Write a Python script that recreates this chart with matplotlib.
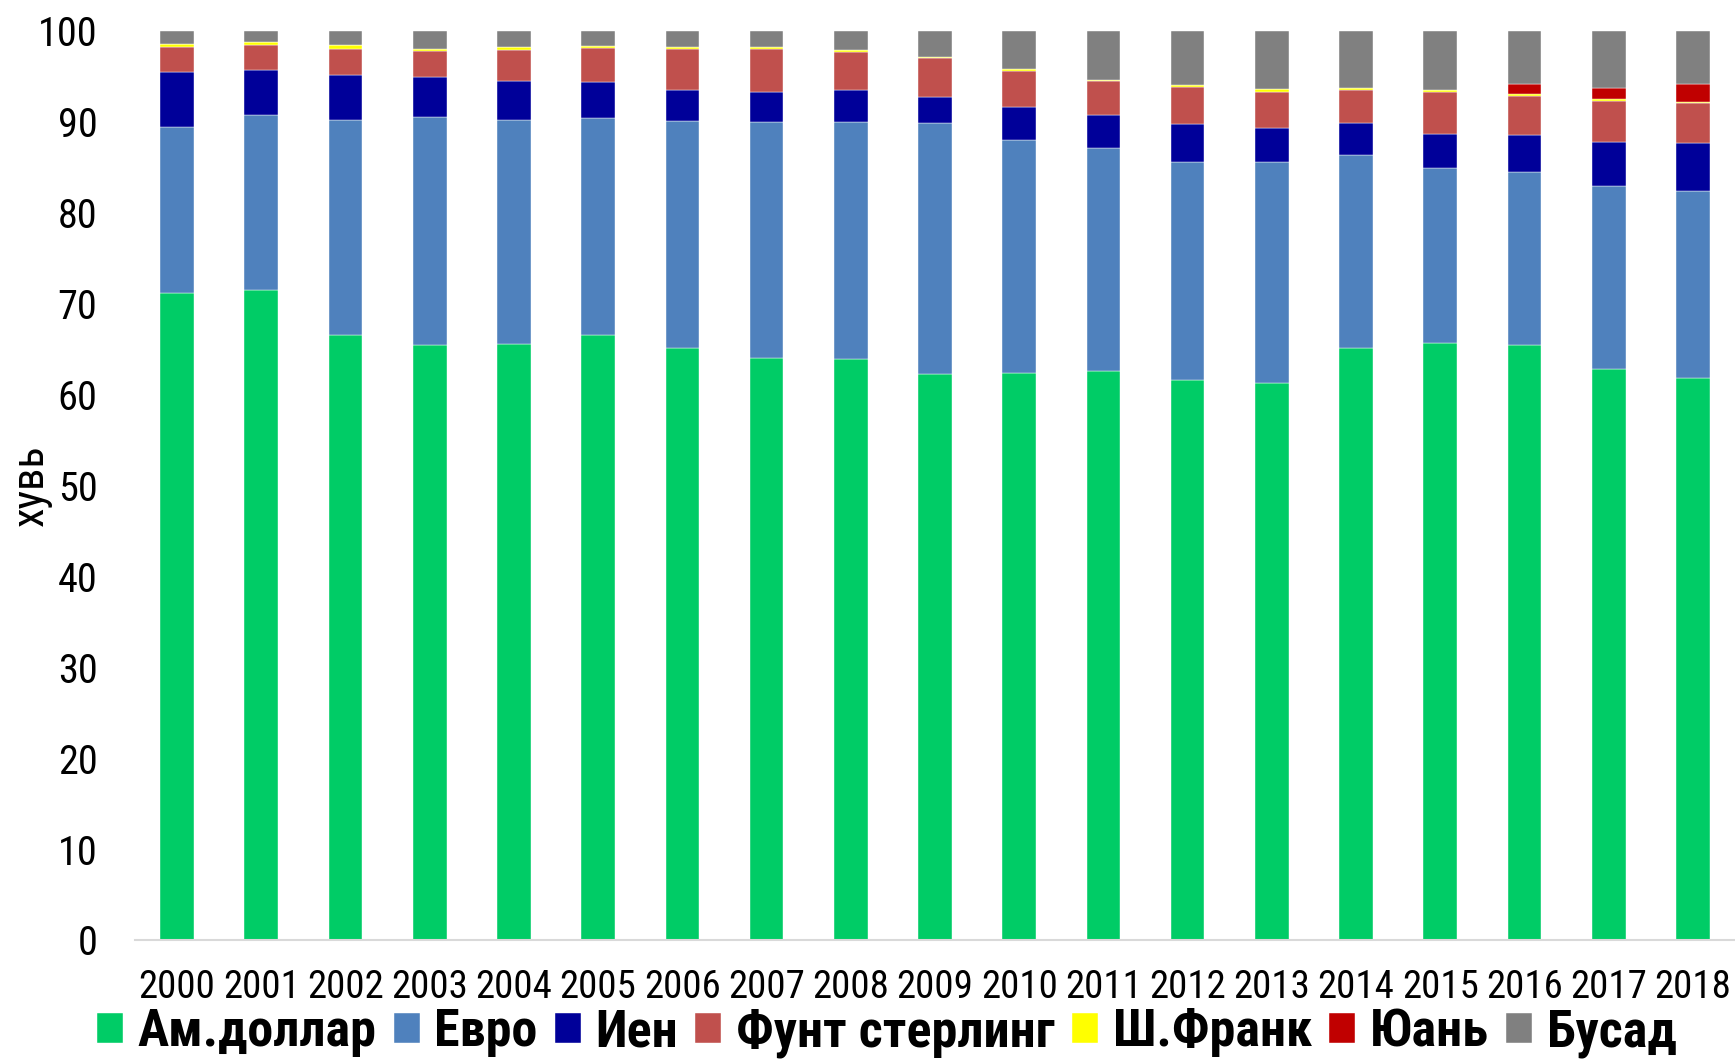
import matplotlib
matplotlib.use("Agg")
import matplotlib.pyplot as plt
import numpy as np
from matplotlib import font_manager
from matplotlib.font_manager import FontProperties

years = ['2000', '2001', '2002', '2003', '2004', '2005', '2006', '2007', '2008', '2009',
         '2010', '2011', '2012', '2013', '2014', '2015', '2016', '2017', '2018']

usd   = [71.1, 71.5, 66.5, 65.4, 65.5, 66.5, 65.1, 64.0, 63.9, 62.2,
         62.3, 62.6, 61.6, 61.3, 65.1, 65.7, 65.4, 62.8, 61.8]
eur   = [18.3, 19.2, 23.7, 25.1, 24.7, 23.9, 25.0, 26.0, 26.1, 27.6,
         25.7, 24.5, 24.0, 24.2, 21.2, 19.2, 19.1, 20.1, 20.6]
jpy   = [6.1, 5.0, 4.9, 4.4, 4.3, 4.0, 3.4, 3.2, 3.5, 2.9,
         3.6, 3.6, 4.1, 3.8, 3.5, 3.7, 4.0, 4.9, 5.2]
gbp   = [2.7, 2.7, 2.9, 2.9, 3.4, 3.7, 4.5, 4.8, 4.2, 4.3,
         4.0, 3.8, 4.1, 4.0, 3.7, 4.7, 4.3, 4.5, 4.4]
chf   = [0.3, 0.3, 0.4, 0.2, 0.3, 0.2, 0.2, 0.2, 0.2, 0.1,
         0.2, 0.1, 0.2, 0.3, 0.2, 0.2, 0.2, 0.2, 0.2]
cny   = [0, 0, 0, 0, 0, 0, 0, 0, 0, 0,
         0, 0, 0, 0, 0, 0, 1.1, 1.2, 1.9]
other = [1.5, 1.3, 1.6, 2.0, 1.8, 1.7, 1.8, 1.8, 2.1, 2.9,
         4.2, 5.4, 6.0, 6.4, 6.3, 6.5, 5.9, 6.3, 5.9]

series_names = ['Ам.доллар', 'Евро', 'Иен', 'Фунт стерлинг', 'Ш.Франк', 'Юань', 'Бусад']
series_vals = [usd, eur, jpy, gbp, chf, cny, other]
colors = ['#00CC66', '#4F81BD', '#000099', '#C0504D', '#FFFF00', '#C00000', '#808080']


def find_narrow(bold):
    """Look for an installed condensed sans font file (regular or bold)."""
    entries = font_manager.fontManager.ttflist
    prefs = ['Liberation Sans Narrow', 'Arial Narrow', 'Roboto Condensed',
             'Open Sans Condensed', 'DejaVu Sans Condensed', 'Noto Sans Condensed']

    def wt(e):
        w = e.weight
        if isinstance(w, str):
            w = 700 if 'bold' in w.lower() else 400
        return w

    def ok_weight(e):
        return (wt(e) >= 600) if bold else (wt(e) < 500)

    for p in prefs:
        for e in entries:
            if e.name == p and e.style == 'normal' and ok_weight(e):
                return e.fname
    for e in entries:
        st = str(e.stretch).lower()
        fn = e.fname.lower()
        if e.style == 'normal' and ok_weight(e) and \
                ('condensed' in st or 'narrow' in st or 'condensed' in fn or 'narrow' in fn) \
                and 'mono' not in fn and 'serif' not in e.name.lower().replace('sans', ''):
            return e.fname
    return None


reg_file = find_narrow(False)
bold_file = find_narrow(True)
narrow_ok = reg_file is not None

if narrow_ok:
    fp_tick = FontProperties(fname=reg_file, size=29)
    fp_xtick = FontProperties(fname=reg_file, size=28)
    fp_ylab = FontProperties(fname=reg_file, size=32)
else:
    fp_tick = FontProperties(family='Liberation Sans', size=26)
    fp_xtick = FontProperties(family='Liberation Sans', size=21)
    fp_ylab = FontProperties(family='Liberation Sans', size=28)
if bold_file is not None:
    fp_leg = FontProperties(fname=bold_file, size=37.5)
else:
    fp_leg = FontProperties(family='Liberation Sans', weight='bold', size=27)

fig = plt.figure(figsize=(17.35, 10.59), dpi=100)
ax = fig.add_axes([0.0778, 0.1124, 0.9222, 0.8587])

x = np.arange(len(years))
bottom = np.zeros(len(years))
handles = []
for name, vals, col in zip(series_names, series_vals, colors):
    v = np.array(vals, dtype=float)
    b = ax.bar(x, v, bottom=bottom, width=0.40, color=col, label=name,
               edgecolor='white', linewidth=0.3)
    handles.append(b)
    bottom += v

ax.set_xlim(-0.5, len(years) - 0.5)
ax.set_ylim(0, 100)
ax.set_yticks(np.arange(0, 101, 10))
ax.set_xticks(x)
ax.set_xticklabels(years)

for s in ['top', 'right', 'left']:
    ax.spines[s].set_visible(False)
ax.spines['bottom'].set_color('#D9D9D9')
ax.spines['bottom'].set_linewidth(1.5)

ax.tick_params(axis='y', length=0, pad=27)
ax.tick_params(axis='x', length=0, pad=21)
for lab in ax.get_yticklabels():
    lab.set_fontproperties(fp_tick)
for lab in ax.get_xticklabels():
    lab.set_fontproperties(fp_xtick)

ax.set_ylabel('хувь', fontproperties=fp_ylab)
ax.yaxis.set_label_coords(-0.052, 0.5)

leg = fig.legend(handles, series_names, loc='center', bbox_to_anchor=(0.511, 0.025),
                 ncol=7, frameon=False, handlelength=0.5, handleheight=0.5,
                 handletextpad=0.28, columnspacing=0.33, borderpad=0.1, prop=fp_leg)

fig.savefig('out.png', dpi=100)
